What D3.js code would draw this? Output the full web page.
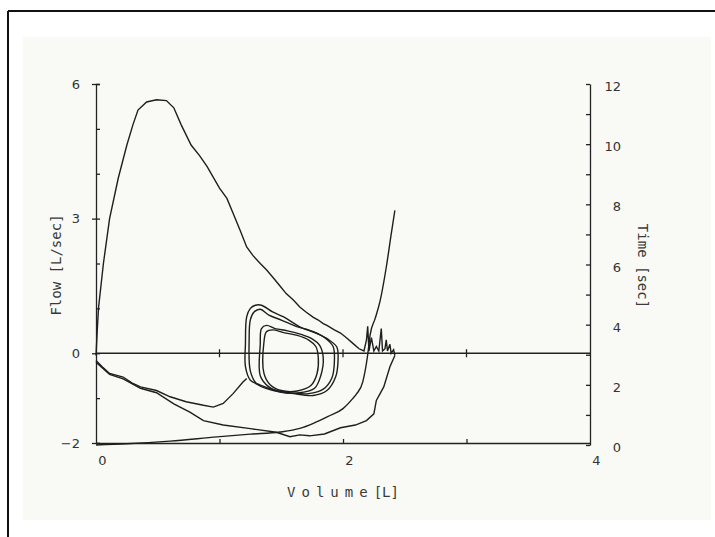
<!DOCTYPE html>
<html>
<head>
<meta charset="utf-8">
<script src="https://cdn.jsdelivr.net/npm/d3@7/dist/d3.min.js"></script>
<style>
  body { margin: 0; background: #ffffff; }
  svg { display: block; }
  .tick text { font-family: "DejaVu Sans", sans-serif; font-size: 13px; fill: #333; }
  .title { font-family: "DejaVu Sans Mono", monospace; font-size: 14px; fill: #3a3a3a; }
</style>
</head>
<body>
<svg id="chart" width="715" height="537"></svg>
<script>
// axis ticks
var flowLabels = [6, 3, 0, -2];
var flowMinor = [-2, -1, 0, 1, 2, 3, 4, 5, 6];
var volumeLabels = [0, 2, 4];
var volumeMinor = [1, 2, 3];
var timeLabels = [0, 2, 4, 6, 8, 10, 12];
var timeMinor = [0, 1, 2, 3, 4, 5, 6, 7, 8, 9, 10, 11, 12];

// maximal expiratory flow-volume curve [volume L, flow L/s]
var expCurve = [
  [0, -0.05], [0.01, 0.5], [0.02, 1.0], [0.06, 2.0], [0.11, 3.0], [0.18, 3.9], [0.25, 4.64],
  [0.3, 5.1], [0.34, 5.42], [0.41, 5.6], [0.49, 5.65], [0.57, 5.63], [0.63, 5.47],
  [0.69, 5.09], [0.77, 4.64], [0.84, 4.4], [0.9, 4.16], [1.0, 3.68], [1.06, 3.45],
  [1.11, 3.12], [1.17, 2.72], [1.22, 2.37], [1.27, 2.18], [1.33, 2.0], [1.38, 1.86],
  [1.43, 1.7], [1.49, 1.5], [1.54, 1.33], [1.6, 1.18], [1.65, 1.03], [1.7, 0.92],
  [1.76, 0.8], [1.8, 0.74], [1.84, 0.66], [1.87, 0.62], [1.93, 0.52], [1.98, 0.45],
  [2.03, 0.34], [2.08, 0.22], [2.13, 0.1], [2.17, 0.05], [2.19, 0.3], [2.2, 0.6],
  [2.21, 0.05], [2.23, 0.35], [2.25, 0.05], [2.27, 0.15], [2.29, 0.05], [2.31, 0.55],
  [2.32, 0.05], [2.34, 0.1], [2.35, 0.3], [2.36, 0.05], [2.38, 0.2], [2.39, 0.0],
  [2.41, 0.08], [2.42, -0.05]
];

// tidal inspiration leading into the loops
var tidalInsp = [
  [0, -0.16], [0.05, -0.3], [0.11, -0.45], [0.22, -0.53], [0.29, -0.66], [0.36, -0.75],
  [0.49, -0.83], [0.6, -0.97], [0.73, -1.08], [0.87, -1.16], [0.95, -1.2], [1.03, -1.12],
  [1.11, -0.9], [1.19, -0.64], [1.22, -0.56]
];

// maximal inspiratory curve
var inspCurve = [
  [0, -0.2], [0.11, -0.47], [0.22, -0.57], [0.36, -0.78], [0.49, -0.88], [0.63, -1.13],
  [0.76, -1.31], [0.87, -1.5], [1.03, -1.6], [1.25, -1.68], [1.46, -1.76], [1.57, -1.86],
  [1.65, -1.82], [1.73, -1.84], [1.85, -1.8], [1.98, -1.66], [2.1, -1.6], [2.19, -1.5],
  [2.25, -1.35], [2.27, -1.05], [2.33, -0.75], [2.38, -0.3], [2.42, -0.05]
];

// tidal loops
var loop1 = [
  [1.21, -0.3], [1.21, 0.2], [1.22, 0.81], [1.25, 1.0], [1.29, 1.07], [1.34, 1.07],
  [1.43, 0.92], [1.52, 0.81], [1.65, 0.59], [1.79, 0.44], [1.89, 0.29], [1.95, 0.14],
  [1.96, -0.15], [1.94, -0.53], [1.87, -0.83], [1.76, -0.94], [1.6, -0.9], [1.46, -0.83],
  [1.33, -0.71], [1.25, -0.6], [1.21, -0.3]
];
var loop2 = [
  [1.25, -0.4], [1.24, 0.3], [1.25, 0.75], [1.28, 0.92], [1.33, 0.98], [1.4, 0.85],
  [1.5, 0.74], [1.62, 0.6], [1.76, 0.48], [1.86, 0.33], [1.92, 0.15], [1.93, -0.2],
  [1.91, -0.55], [1.84, -0.8], [1.72, -0.9], [1.56, -0.88], [1.42, -0.82], [1.3, -0.68],
  [1.25, -0.4]
];
var loop3 = [
  [1.33, -0.5], [1.33, 0.2], [1.34, 0.55], [1.38, 0.62], [1.45, 0.55], [1.55, 0.5],
  [1.66, 0.42], [1.75, 0.32], [1.81, 0.18], [1.84, -0.1], [1.82, -0.5], [1.77, -0.78],
  [1.65, -0.88], [1.5, -0.87], [1.4, -0.75], [1.33, -0.5]
];
var loop4 = [
  [1.36, -0.45], [1.36, 0.25], [1.38, 0.48], [1.43, 0.52], [1.52, 0.46], [1.63, 0.4],
  [1.72, 0.3], [1.78, 0.15], [1.8, -0.1], [1.79, -0.45], [1.74, -0.72], [1.63, -0.84],
  [1.5, -0.83], [1.41, -0.7], [1.36, -0.45]
];

// volume-time curve [volume L, time s]
var timeCurve = [
  [0, 0], [0.25, 0.04], [0.6, 0.13], [0.98, 0.27], [1.25, 0.36], [1.49, 0.43],
  [1.65, 0.55], [1.76, 0.72], [1.88, 0.95], [2.0, 1.21], [2.08, 1.55], [2.11, 1.7],
  [2.16, 2.1], [2.2, 3.0], [2.22, 3.67], [2.26, 4.2], [2.3, 4.78], [2.35, 5.9],
  [2.39, 7.0], [2.42, 7.8]
];

var svg = d3.select("#chart");
var x = d3.scaleLinear().domain([0, 4]).range([96, 590]);
var yFlow = d3.scaleLinear().domain([-2, 6]).range([443, 84]);
var yTime = d3.scaleLinear().domain([0, 12]).range([445, 84]);

// scanned page background and frame
svg.append("rect").attr("x", 23).attr("y", 37).attr("width", 688).attr("height", 483)
  .attr("fill", "#f9faf5");
svg.append("line").attr("x1", 8).attr("x2", 715).attr("y1", 11).attr("y2", 11)
  .attr("stroke", "#111").attr("stroke-width", 2);
svg.append("line").attr("x1", 8).attr("x2", 8).attr("y1", 11).attr("y2", 537)
  .attr("stroke", "#111").attr("stroke-width", 2);

function styleAxis(g) {
  g.selectAll("path, line").attr("stroke", "#222").attr("stroke-width", 1.3);
}

// left axis
svg.append("g").attr("transform", "translate(96,0)")
  .call(d3.axisRight(yFlow).tickValues(flowMinor).tickSize(4).tickFormat(""))
  .call(styleAxis);
svg.append("g").attr("transform", "translate(96,0)")
  .call(d3.axisLeft(yFlow).tickValues(flowLabels).tickSize(4).tickPadding(12))
  .call(styleAxis)
  .call(function(g) { g.select(".domain").remove(); });

// bottom axis
svg.append("g").attr("transform", "translate(0,443)")
  .call(d3.axisTop(x).tickValues(volumeMinor).tickSize(4).tickFormat("").tickSizeOuter(0))
  .call(styleAxis);
svg.append("g").attr("transform", "translate(0,443)")
  .call(d3.axisBottom(x).tickValues(volumeLabels).tickSize(0).tickPadding(13).tickFormat(d3.format("d")))
  .call(function(g) { g.select(".domain").remove(); })
  .selectAll("text").attr("dx", 6);

// right axis
svg.append("g").attr("transform", "translate(590,0)")
  .call(d3.axisLeft(yTime).tickValues(timeMinor).tickSize(4).tickFormat("").tickSizeOuter(0))
  .call(styleAxis);
svg.append("g").attr("transform", "translate(590,0)")
  .call(d3.axisRight(yTime).tickValues(timeLabels).tickSize(0))
  .call(function(g) { g.select(".domain").remove(); })
  .selectAll("text").attr("text-anchor", "end").attr("x", 31).attr("dy", "0.5em");

// zero flow line
svg.append("line").attr("x1", x(0)).attr("x2", x(4)).attr("y1", yFlow(0)).attr("y2", yFlow(0))
  .attr("stroke", "#222").attr("stroke-width", 1.3);
svg.selectAll(".zt").data(volumeMinor).enter().append("line")
  .attr("x1", function(d) { return x(d); }).attr("x2", function(d) { return x(d); })
  .attr("y1", yFlow(0) - 4).attr("y2", yFlow(0) + 4)
  .attr("stroke", "#222").attr("stroke-width", 1.3);

// curves
var flowLine = d3.line()
  .x(function(d) { return x(d[0]); })
  .y(function(d) { return yFlow(d[1]); });
var loopLine = d3.line()
  .x(function(d) { return x(d[0]); })
  .y(function(d) { return yFlow(d[1]); })
  .curve(d3.curveCatmullRomClosed);
var timeLine = d3.line()
  .x(function(d) { return x(d[0]); })
  .y(function(d) { return yTime(d[1]); })
  .curve(d3.curveMonotoneX);

[expCurve, tidalInsp, inspCurve].forEach(function(c) {
  svg.append("path").datum(c).attr("d", flowLine)
    .attr("fill", "none").attr("stroke", "#1e1e1e").attr("stroke-width", 1.4);
});
[loop1, loop2, loop3, loop4].forEach(function(c) {
  svg.append("path").datum(c.slice(0, -1)).attr("d", loopLine)
    .attr("fill", "none").attr("stroke", "#1e1e1e").attr("stroke-width", 1.4);
});
svg.append("path").datum(timeCurve).attr("d", timeLine)
  .attr("fill", "none").attr("stroke", "#1e1e1e").attr("stroke-width", 1.4);

// axis titles
svg.append("text").attr("class", "title")
  .attr("transform", "translate(61,265) rotate(-90)")
  .attr("text-anchor", "middle").text("Flow [L/sec]");
svg.append("text").attr("class", "title")
  .attr("transform", "translate(638,266) rotate(90)")
  .attr("text-anchor", "middle").text("Time [sec]");
var vt = svg.append("text").attr("class", "title")
  .attr("x", 343).attr("y", 497).attr("text-anchor", "middle");
vt.append("tspan").style("letter-spacing", "6px").text("Volume");
vt.append("tspan").text("[L]");
</script>
</body>
</html>
